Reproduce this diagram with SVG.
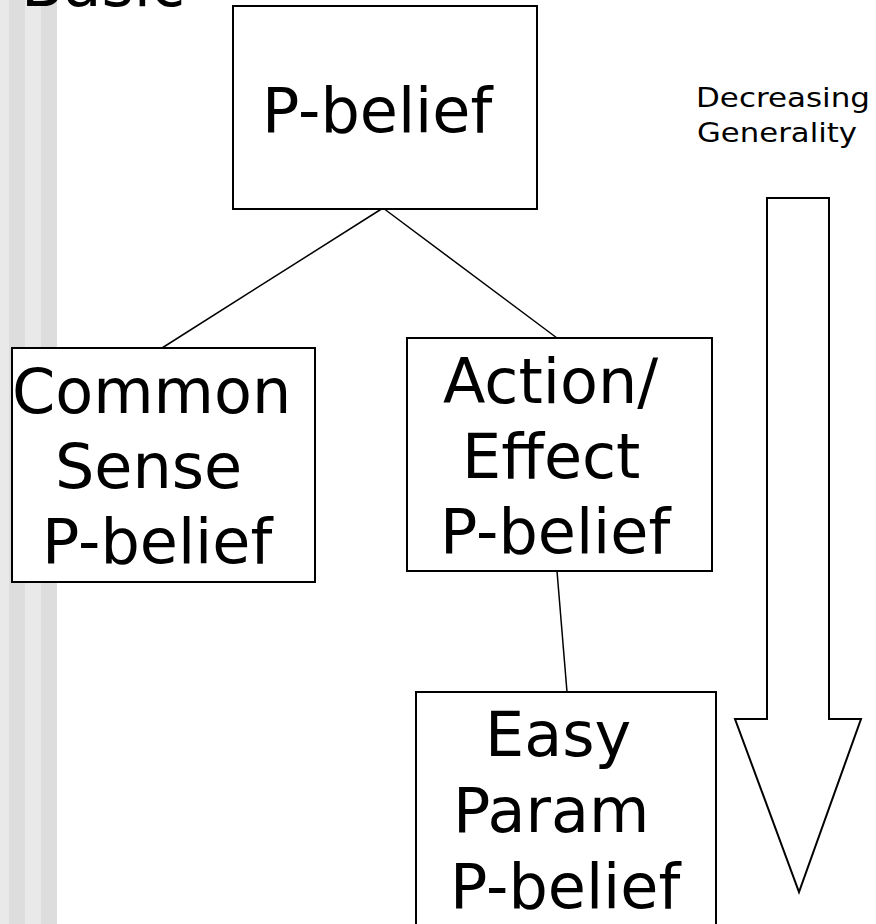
<svg xmlns="http://www.w3.org/2000/svg" width="876" height="924" viewBox="0 0 876 924">
<style>
.box{fill:#fff;stroke:#000;stroke-width:2}
.lbl{font-family:"DejaVu Sans",Verdana,sans-serif;font-size:62px;fill:#000}
.sm{font-family:"DejaVu Sans",Verdana,sans-serif;font-size:27px;fill:#000}
.conn{stroke:#000;stroke-width:1.5;fill:none}
</style>
<rect x="0" y="0" width="876" height="924" fill="#fff"/>
<g id="stripes">
<rect x="0" y="0" width="9" height="924" fill="#e9e9e9"/>
<rect x="9" y="0" width="16" height="924" fill="#dddddd"/>
<rect x="25" y="0" width="16" height="924" fill="#e9e9e9"/>
<rect x="41" y="0" width="16" height="924" fill="#dddddd"/>
</g>
<text class="lbl" x="21" y="6" font-size="60">Basic</text>
<g id="connectors">
<line class="conn" x1="383" y1="208" x2="162" y2="348"/>
<line class="conn" x1="383" y1="208" x2="557" y2="338"/>
<line class="conn" x1="557" y1="571" x2="567" y2="692"/>
</g>
<g id="n-pbelief">
<rect class="box" x="233" y="6" width="304" height="203"/>
<text class="lbl" x="262" y="132">P-belief</text>
</g>
<g id="n-common">
<rect class="box" x="12" y="348" width="303" height="234"/>
<text class="lbl" x="12" y="413">Common</text>
<text class="lbl" x="55" y="488">Sense</text>
<text class="lbl" x="42" y="563">P-belief</text>
</g>
<g id="n-action">
<rect class="box" x="407" y="338" width="305" height="233"/>
<text class="lbl" x="443" y="403">Action/</text>
<text class="lbl" x="462" y="478">Effect</text>
<text class="lbl" x="440" y="553">P-belief</text>
</g>
<g id="n-easy">
<rect class="box" x="416" y="692" width="300" height="250"/>
<text class="lbl" x="485" y="756">Easy</text>
<text class="lbl" x="453" y="832">Param</text>
<text class="lbl" x="450" y="908">P-belief</text>
</g>
<g id="generality">
<text class="sm" x="696" y="107" textLength="174" lengthAdjust="spacingAndGlyphs">Decreasing</text>
<text class="sm" x="697" y="142" textLength="160" lengthAdjust="spacingAndGlyphs">Generality</text>
<polygon points="767,198 829,198 829,719 861,719 799,892 735,719 767,719" fill="#fff" stroke="#000" stroke-width="2"/>
</g>
</svg>
